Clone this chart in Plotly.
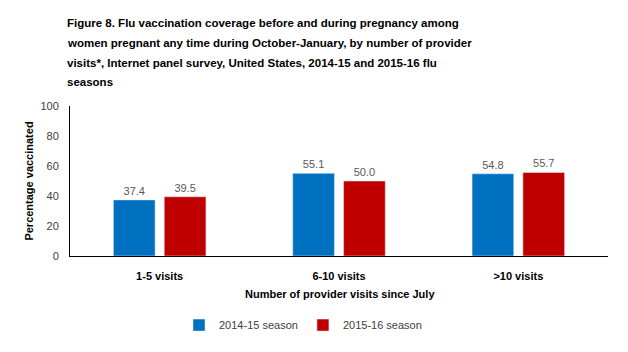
import plotly.graph_objects as go

categories = ["1-5 visits", "6-10 visits", ">10 visits"]
season_2014 = [37.4, 55.1, 54.8]
season_2015 = [39.5, 50.0, 55.7]
series_names = ["2014-15 season", "2015-16 season"]
title_lines = [
    "Figure 8. Flu vaccination coverage before and during pregnancy among",
    "women pregnant any time during October-January, by number of provider",
    "visits*, Internet panel survey, United States, 2014-15 and 2015-16 flu",
    "seasons",
]

FONT = "Liberation Sans"
W, H = 628, 352

fig = go.Figure()
fig.add_trace(go.Bar(x=categories, y=season_2014, name=series_names[0],
                     marker_color="#0070C0",
                     text=[f"{v:.1f}" for v in season_2014], textposition="outside",
                     textfont=dict(family=FONT, size=11, color="#595959"),
                     cliponaxis=False))
fig.add_trace(go.Bar(x=categories, y=season_2015, name=series_names[1],
                     marker_color="#C00000",
                     text=[f"{v:.1f}" for v in season_2015], textposition="outside",
                     textfont=dict(family=FONT, size=11, color="#595959"),
                     cliponaxis=False))

annotations = []
for i, line in enumerate(title_lines):
    annotations.append(dict(text=f"<b>{line}</b>", xref="paper", yref="paper",
                            x=(65 - 70) / 538, y=1 + (106 - (22 + 20 * i)) / 152,
                            xanchor="left", yanchor="middle", showarrow=False,
                            font=dict(family=FONT, size=11.5, color="black")))
annotations.append(dict(text="<b>Number of provider visits since July</b>",
                        xref="paper", yref="paper",
                        x=(340 - 70) / 538, y=-(297 - 258) / 152,
                        xanchor="center", yanchor="middle", showarrow=False,
                        font=dict(family=FONT, size=11, color="black")))

fig.update_layout(
    width=W, height=H,
    margin=dict(l=70, r=20, t=106, b=94),
    paper_bgcolor="white", plot_bgcolor="white",
    barmode="group", bargap=0.433, bargroupgap=0.18,
    showlegend=True,
    legend=dict(orientation="h", x=(303 - 70) / 538, xanchor="center",
                y=-(328 - 258) / 152, yanchor="middle",
                font=dict(family=FONT, size=11, color="#404040"),
                itemwidth=30),
    annotations=annotations,
    font=dict(family=FONT),
)
fig.update_xaxes(showline=True, linecolor="black", linewidth=1, ticks="",
                 tickfont=dict(family=FONT, size=11, color="black", weight="bold"),
                 ticklabelstandoff=10, showgrid=False)
fig.update_yaxes(range=[0, 100], tickvals=[0, 20, 40, 60, 80, 100],
                 showline=True, linecolor="black", linewidth=1, ticks="",
                 showgrid=False, zeroline=False,
                 tickfont=dict(family=FONT, size=11, color="#404040"),
                 ticklabelstandoff=8,
                 title=dict(text="<b>Percentage vaccinated</b>", standoff=4,
                            font=dict(family=FONT, size=11, color="black")))

fig.write_html("out.html")
